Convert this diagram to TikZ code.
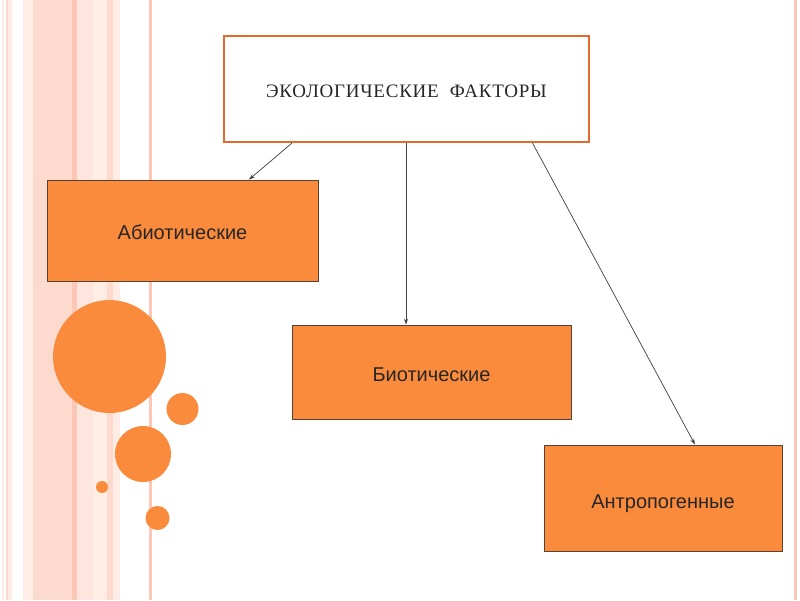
\documentclass[tikz,border=0pt]{standalone}
\usepackage{fontspec}
\setmainfont{Liberation Serif}
\setsansfont{Liberation Sans}
\usetikzlibrary{arrows.meta}
\definecolor{stripeA}{RGB}{253,218,206}
\definecolor{stripeB}{RGB}{252,199,181}
\definecolor{stripeC}{RGB}{254,236,229}
\definecolor{boxorange}{RGB}{250,139,60}
\definecolor{topborder}{RGB}{226,106,44}
\definecolor{boxborder}{RGB}{90,64,48}
\tikzset{
  orangebox/.style={draw=boxborder, line width=0.8pt, fill=boxorange, font=\sffamily\fontsize{20}{22}\selectfont, text=black!85, text height=20pt, text depth=2pt},
  titlebox/.style={draw=topborder, line width=2pt, fill=white, font=\rmfamily\fontsize{19}{21}\selectfont\addfontfeature{LetterSpace=4}, text=black!85, text height=18.6pt, text depth=2pt},
  conn/.style={draw=black!75, line width=0.7pt, -{Stealth[length=6pt,width=4pt]}},
  dot/.style={fill=boxorange, draw=none}
}
\begin{document}
\begin{tikzpicture}[x=1pt,y=-1pt]
\path[use as bounding box, fill=white] (0,0) rectangle (800,600);
% left stripes
\fill[stripeC] (2,0) rectangle (4,600);
\fill[stripeA] (6,0) rectangle (8,600);
\fill[stripeC] (8,0) rectangle (12,600);
\fill[stripeC] (23,0) rectangle (33,600);
\fill[stripeA] (33,0) rectangle (72,600);
\fill[stripeB] (72,0) rectangle (77,600);
\fill[stripeA!70] (77,0) rectangle (93,600);
\fill[stripeC] (93,0) rectangle (107,600);
\fill[stripeA] (107,0) rectangle (113,600);
\fill[stripeC] (113,0) rectangle (120,600);
\fill[stripeB] (149,0) rectangle (152,600);
% right stripe
\fill[stripeB] (794,0) rectangle (797,600);
% circles
\fill[dot] (109.5,356.5) circle (56.5);
\fill[dot] (182.5,409) circle (16);
\fill[dot] (143,454) circle (28);
\fill[dot] (102,487) circle (6);
\fill[dot] (157.5,518) circle (12);
% boxes
\node[titlebox, minimum width=365pt, minimum height=106pt] (top) at (406.5,89) {ЭКОЛОГИЧЕСКИЕ\ \ ФАКТОРЫ};
\node[orangebox, minimum width=271pt, minimum height=101pt] (abio) at (182.5,230.5) {Абиотические};
\node[orangebox, minimum width=279pt, minimum height=94pt] (bio) at (431.5,372) {Биотические};
\node[orangebox, minimum width=238pt, minimum height=106pt, text height=22pt] (anthro) at (663,498) {Антропогенные};
% connectors
\draw[conn] ([xshift=-114.5pt]top.south) -- ([xshift=66.5pt]abio.north);
\draw[conn] ([xshift=-0.5pt]top.south) -- ([xshift=-25.5pt]bio.north);
\draw[conn] ([xshift=126pt]top.south) -- ([xshift=32pt]anthro.north);
\end{tikzpicture}
\end{document}
